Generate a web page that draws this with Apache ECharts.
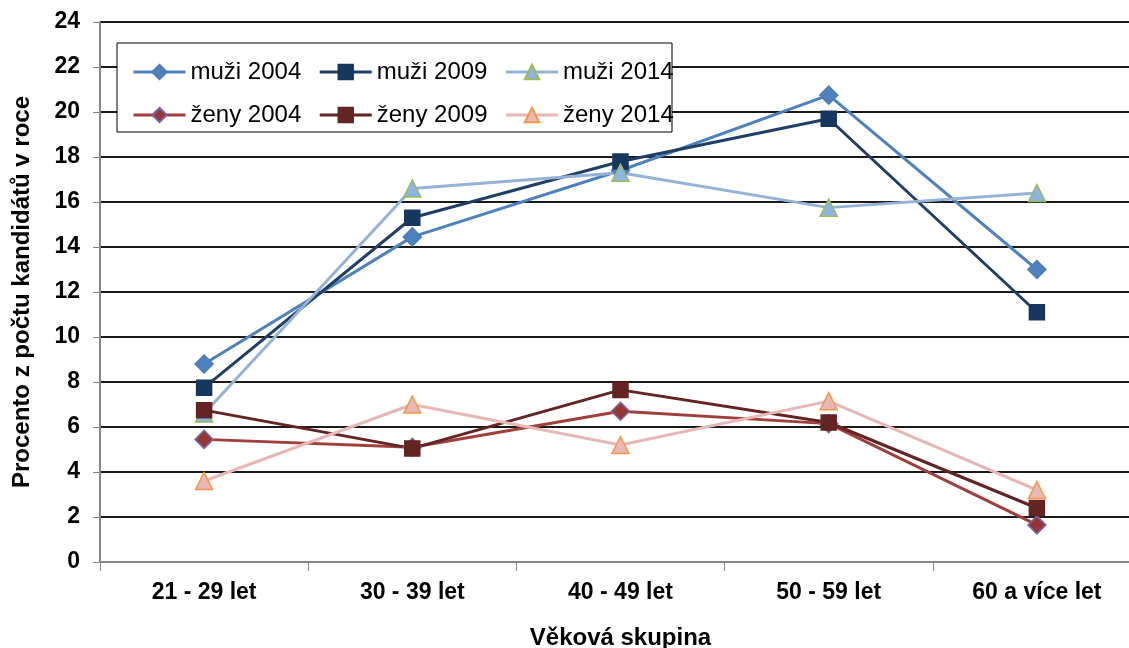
<!DOCTYPE html>
<html>
<head>
<meta charset="utf-8">
<script src="https://cdn.jsdelivr.net/npm/echarts@6/dist/echarts.min.js"></script>
<style>
  html, body { margin: 0; padding: 0; background: #fff; }
  #chart-container { width: 1129px; height: 648px; }
</style>
</head>
<body>
<div id="chart-container"></div>
<script>
var categories = ["21 - 29 let", "30 - 39 let", "40 - 49 let", "50 - 59 let", "60 a více let"];
var yTicks = [0, 2, 4, 6, 8, 10, 12, 14, 16, 18, 20, 22, 24];

var muzi2004 = [8.8, 14.45, 17.4, 20.75, 13.0];
var muzi2009 = [7.75, 15.3, 17.8, 19.7, 11.1];
var muzi2014 = [6.6, 16.6, 17.3, 15.75, 16.4];
var zeny2004 = [5.45, 5.1, 6.7, 6.15, 1.65];
var zeny2009 = [6.75, 5.05, 7.65, 6.2, 2.4];
var zeny2014 = [3.6, 7.0, 5.2, 7.15, 3.2];

var font = "'Liberation Sans', Arial, sans-serif";

function lineSeries(name, data, lineColor, symbol, size, fill, border) {
  return {
    name: name,
    type: "line",
    data: data,
    symbol: symbol,
    symbolSize: size,
    lineStyle: { color: lineColor, width: 3 },
    itemStyle: { color: fill, borderColor: border, borderWidth: 1.5 },
    emphasis: { disabled: true },
    animation: false
  };
}

var dom = document.getElementById("chart-container");
var myChart = echarts.init(dom, null, { renderer: "canvas" });

var legendText = { fontFamily: font, fontSize: 24, color: "#000" };

var option = {
  backgroundColor: "#fff",
  // plot runs a bit past the right edge, like the cropped original
  grid: { left: 100, top: 22, width: 1041, height: 540, outerBoundsMode: "none", containLabel: false },
  graphic: [
    {
      type: "rect",
      z: 3,
      shape: { x: 117, y: 43, width: 555, height: 89 },
      style: { fill: "#fff", stroke: "#000", lineWidth: 1 }
    }
  ],
  legend: [
    {
      data: ["muži 2004", "muži 2009", "muži 2014"],
      left: 127, top: 55,
      itemWidth: 52, itemHeight: 18, itemGap: 17,
      lineStyle: { width: 3 },
      textStyle: legendText, z: 4
    },
    {
      data: ["ženy 2004", "ženy 2009", "ženy 2014"],
      left: 127, top: 98,
      itemWidth: 52, itemHeight: 18, itemGap: 17,
      lineStyle: { width: 3 },
      textStyle: legendText, z: 4
    }
  ],
  xAxis: {
    type: "category",
    data: categories,
    boundaryGap: true,
    name: "Věková skupina",
    nameLocation: "middle",
    nameGap: 64,
    nameTextStyle: { fontFamily: font, fontSize: 24, fontWeight: "bold", color: "#000" },
    axisLine: { lineStyle: { color: "#868686", width: 2 } },
    axisTick: { show: true, length: 9, lineStyle: { color: "#868686", width: 1 } },
    axisLabel: { margin: 19, fontFamily: font, fontSize: 23, fontWeight: "bold", color: "#000" }
  },
  yAxis: {
    type: "value",
    min: yTicks[0],
    max: yTicks[yTicks.length - 1],
    interval: 2,
    name: "Procento z počtu kandidátů v roce",
    nameLocation: "middle",
    nameRotate: 90,
    nameGap: 66,
    nameTextStyle: { fontFamily: font, fontSize: 24, fontWeight: "bold", color: "#000" },
    axisLine: { show: true, lineStyle: { color: "#868686", width: 2 } },
    axisTick: { show: true, length: 7, lineStyle: { color: "#868686", width: 1 } },
    axisLabel: { margin: 20, fontFamily: font, fontSize: 23, fontWeight: "bold", color: "#000" },
    splitLine: { show: true, lineStyle: { color: "#1a1a1a", width: 2 } }
  },
  series: [
    lineSeries("muži 2004", muzi2004, "#4F81BD", "diamond", 18, "#4F81BD", "#4A7EBB"),
    lineSeries("muži 2009", muzi2009, "#1F3F66", "rect", 15, "#17375E", "#17375E"),
    lineSeries("muži 2014", muzi2014, "#95B3D7", "triangle", 17, "#8EB4E3", "#9BBB59"),
    lineSeries("ženy 2004", zeny2004, "#A0403D", "diamond", 18, "#953735", "#8064A2"),
    lineSeries("ženy 2009", zeny2009, "#632523", "rect", 15, "#632523", "#632523"),
    lineSeries("ženy 2014", zeny2014, "#E6B9B8", "triangle", 17, "#E6B9B8", "#F79646")
  ]
};

myChart.setOption(option);
window.addEventListener("resize", myChart.resize);
</script>
</body>
</html>
